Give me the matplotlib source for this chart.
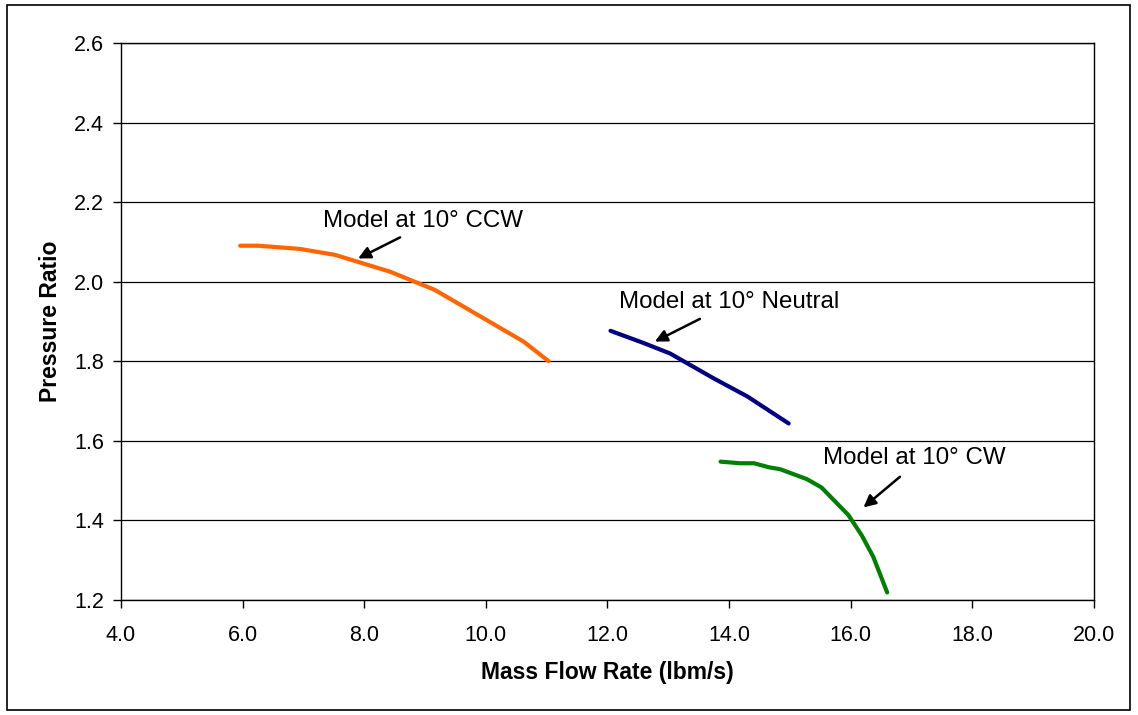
import matplotlib.pyplot as plt
from matplotlib.patches import Rectangle

plt.rcParams['font.family'] = ['Liberation Sans', 'DejaVu Sans']

# Kurven (Massenstrom in lbm/s, Druckverhaeltnis)
ccw_x = [5.96, 6.26, 6.94, 7.52, 8.42, 9.16, 10.62, 11.03]
ccw_y = [2.091, 2.091, 2.083, 2.068, 2.026, 1.980, 1.850, 1.801]

neutral_x = [12.05, 12.60, 13.03, 13.74, 14.30, 14.98]
neutral_y = [1.877, 1.846, 1.820, 1.758, 1.712, 1.644]

cw_x = [13.86, 14.18, 14.41, 14.65, 14.84, 15.28, 15.52, 15.96, 16.18, 16.37, 16.60]
cw_y = [1.548, 1.544, 1.544, 1.534, 1.529, 1.504, 1.483, 1.414, 1.363, 1.309, 1.219]

# Beschriftungen: Text, Textposition, Pfeilanfang, Pfeilspitze
labels = ['Model at 10° CCW', 'Model at 10° Neutral', 'Model at 10° CW']
label_pos = [(8.97, 2.154), (14.0, 1.950), (17.05, 1.557)]
arrow_tail = [(8.59, 2.112), (13.52, 1.907), (16.81, 1.510)]
arrow_head = [(7.90, 2.059), (12.78, 1.850), (16.21, 1.433)]

x_ticks = [4, 6, 8, 10, 12, 14, 16, 18, 20]
y_ticks = [1.2, 1.4, 1.6, 1.8, 2.0, 2.2, 2.4, 2.6]

fig = plt.figure(figsize=(11.38, 7.15), dpi=100)
ax = fig.add_axes([0.1063, 0.1608, 0.855, 0.7786])

# Rahmen um die ganze Grafik
fig.patches.append(Rectangle((7 / 1138, 5 / 715), 1123 / 1138, 705 / 715,
                             transform=fig.transFigure, fill=False,
                             edgecolor='black', linewidth=1.2))

ax.plot(ccw_x, ccw_y, color='#FF6600', linewidth=3, solid_capstyle='round')
ax.plot(neutral_x, neutral_y, color='#000080', linewidth=3, solid_capstyle='round')
ax.plot(cw_x, cw_y, color='#008000', linewidth=3, solid_capstyle='round')

for text, pos, tail, head in zip(labels, label_pos, arrow_tail, arrow_head):
    ax.text(pos[0], pos[1], text, fontsize=17.4, ha='center', va='center')
    ax.annotate('', xy=head, xytext=tail,
                arrowprops=dict(arrowstyle='-|>', color='black', lw=1.8,
                                mutation_scale=18, shrinkA=0, shrinkB=0))

ax.set_xlim(4, 20)
ax.set_ylim(1.2, 2.6)
ax.set_xticks(x_ticks)
ax.set_yticks(y_ticks)
ax.set_xticklabels([f'{v:.1f}' for v in x_ticks])
ax.set_yticklabels([f'{v:.1f}' for v in y_ticks])
ax.tick_params(direction='out', length=6, width=1, labelsize=15.5, pad=6)
ax.tick_params(axis='x', pad=12)
ax.yaxis.grid(True, color='black', linewidth=0.9)
ax.set_axisbelow(True)
for s in ax.spines.values():
    s.set_linewidth(1)
    s.set_color('black')

ax.set_xlabel('Mass Flow Rate (lbm/s)', fontsize=16.5, fontweight='bold', labelpad=11)
ax.set_ylabel('Pressure Ratio', fontsize=16.5, fontweight='bold', labelpad=9)

fig.savefig('out.png', dpi=100)
